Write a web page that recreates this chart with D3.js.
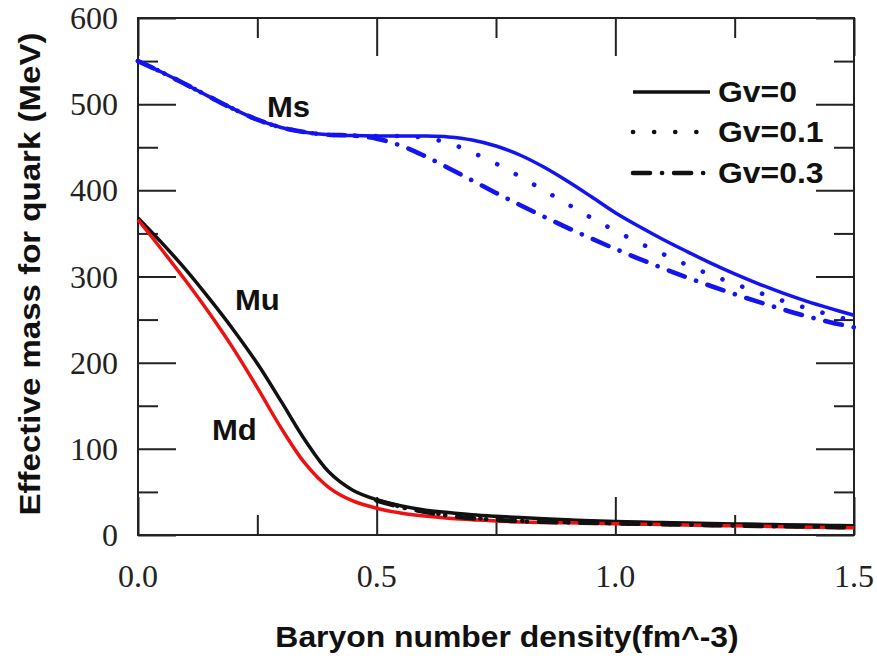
<!DOCTYPE html>
<html>
<head>
<meta charset="utf-8">
<script src="https://cdn.jsdelivr.net/npm/d3@7/dist/d3.min.js"></script>
<style>
  html, body { margin: 0; padding: 0; background: #fff; }
  svg { display: block; }
</style>
</head>
<body>
<svg id="chart" width="877" height="658"></svg>
<script>
// Baryon number density grid (fm^-3)
const rho = [0, 0.05, 0.1, 0.15, 0.2, 0.25, 0.3, 0.35, 0.4, 0.45, 0.5, 0.55, 0.6, 0.65, 0.7,
             0.75, 0.8, 0.85, 0.9, 0.95, 1.0, 1.05, 1.1, 1.15, 1.2, 1.25, 1.3, 1.35, 1.4, 1.45, 1.5];

// Strange quark effective mass (MeV) for each vector coupling
const msGv0  = [550, 537, 523, 508.5, 494.5, 482, 473, 467.5, 464.5, 463.5, 463, 463, 463, 462, 458.5,
                451.5, 441, 427, 410.5, 392.5, 374, 358, 343, 329, 315.5, 303, 291.5, 281, 271.5, 263, 255];
const msGv01 = [550, 537, 523, 508.5, 494.5, 482, 473, 467.5, 464.5, 463.5, 463, 463, 461, 455, 444,
                431, 416, 400, 384, 368, 353, 339, 326, 313.5, 302, 291.5, 281.5, 272, 263.5, 255.5, 248];
const msGv03 = [550, 537, 523, 508.5, 494.5, 482, 473, 467.5, 464.5, 463.5, 460, 452, 440, 426, 411.5,
                397, 383, 369.5, 356.5, 344, 332, 320.5, 309.5, 299, 289, 279.5, 270.5, 262, 254, 247, 241];

// Light quark effective masses (MeV), Gv = 0
const muGv0 = [368, 339, 308, 274, 238, 199, 155, 110, 73, 52, 41, 34, 29, 26, 23.5,
               21.7, 20.2, 18.8, 17.6, 16.5, 15.6, 15, 14.4, 13.9, 13.4, 12.9, 12.4, 11.9, 11.5, 11.1, 10.7];
const mdGv0 = [366, 331, 295, 257, 216, 171, 124, 83, 55, 39.5, 31, 25.5, 22, 19.5, 17.8,
               16.2, 15.2, 14.6, 14.1, 13.6, 13.1, 12.6, 12.1, 11.6, 11.1, 10.6, 10.1, 9.6, 9.1, 8.7, 8.3];

// Light quark mass with finite Gv (high-density branch)
const rhoTail = [0.5, 0.55, 0.6, 0.65, 0.7, 0.75, 0.8, 0.9, 1.0, 1.1, 1.2, 1.3, 1.4, 1.5];
const muGv01  = [40.5, 33, 27.5, 23, 20, 18, 16.5, 15, 13.8, 12.8, 11.8, 10.9, 10, 9.2];
const muGv03  = [40, 32.5, 27, 22.5, 19.5, 17.5, 16, 14.6, 13.5, 12.5, 11.5, 10.6, 9.8, 9];

// Axis ticks and labels
const xMajor = [0, 0.5, 1.0, 1.5];
const xMinor = [0.25, 0.75, 1.25];
const xTickLabels = ["0.0", "0.5", "1.0", "1.5"];
const yMajor = [0, 100, 200, 300, 400, 500, 600];
const yMinor = [50, 150, 250, 350, 450, 550];

const legendItems = ["Gv=0", "Gv=0.1", "Gv=0.3"];

const svg = d3.select("#chart");
const plot = { left: 138, right: 854, top: 18, bottom: 535 };

const x = d3.scaleLinear().domain([0, 1.5]).range([plot.left, plot.right]);
const y = d3.scaleLinear().domain([0, 600]).range([plot.bottom, plot.top]);

const axisColor = "#222";
const majorLen = 38, minorLen = 20;

// Frame ticks via d3 axes on all four sides, pointing inward
function drawAxis(axisFn, transform, values, len) {
  const g = svg.append("g")
    .attr("transform", transform)
    .call(axisFn.tickValues(values).tickSize(-len).tickFormat(""));
  g.select(".domain").remove();
  g.selectAll(".tick line").attr("stroke", axisColor).attr("stroke-width", 2);
  return g;
}
drawAxis(d3.axisBottom(x), `translate(0,${plot.bottom})`, xMajor, majorLen);
drawAxis(d3.axisBottom(x), `translate(0,${plot.bottom})`, xMinor, minorLen);
drawAxis(d3.axisTop(x), `translate(0,${plot.top})`, xMajor, majorLen);
drawAxis(d3.axisTop(x), `translate(0,${plot.top})`, xMinor, minorLen);
drawAxis(d3.axisLeft(y), `translate(${plot.left},0)`, yMajor, majorLen);
drawAxis(d3.axisLeft(y), `translate(${plot.left},0)`, yMinor, minorLen);
drawAxis(d3.axisRight(y), `translate(${plot.right},0)`, yMajor, majorLen);
drawAxis(d3.axisRight(y), `translate(${plot.right},0)`, yMinor, minorLen);

svg.append("rect")
  .attr("x", plot.left).attr("y", plot.top)
  .attr("width", plot.right - plot.left).attr("height", plot.bottom - plot.top)
  .attr("fill", "none").attr("stroke", axisColor).attr("stroke-width", 2);

// Tick labels (serif)
const serif = "'Liberation Serif', 'Times New Roman', serif";
svg.append("g").selectAll("text").data(yMajor).join("text")
  .attr("x", plot.left - 20).attr("y", d => y(d) + 11)
  .attr("text-anchor", "end")
  .attr("font-family", serif).attr("font-size", 32).attr("fill", "#222")
  .text(d => d);
svg.append("g").selectAll("text").data(xMajor).join("text")
  .attr("x", d => x(d)).attr("y", 587)
  .attr("text-anchor", "middle")
  .attr("font-family", serif).attr("font-size", 32).attr("fill", "#222")
  .text((d, i) => xTickLabels[i]);

// Bold sans text, slightly widened
const sans = "'Liberation Sans', Arial, Helvetica, sans-serif";
function boldText(px, py, str, opts = {}) {
  const sx = opts.sx || 1.1;
  const rot = opts.rotate || 0;
  const g = svg.append("g")
    .attr("transform", `translate(${px},${py}) rotate(${rot}) scale(${sx},1)`);
  g.append("text")
    .attr("text-anchor", opts.anchor || "start")
    .attr("font-family", sans).attr("font-weight", "bold")
    .attr("font-size", opts.size || 29).attr("fill", "#111")
    .text(str);
  return g;
}

boldText(507, 647, "Baryon number density(fm^-3)", { anchor: "middle", sx: 1.1 });
boldText(40, 274, "Effective mass for quark (MeV)", { anchor: "middle", sx: 1.14, rotate: -90 });

// Curves
const blue = "#1414f0", red = "#ee1111", black = "#111";
const dotDash = "0.1 21";
const dashDot = "17 12 0.1 12";

function curve(xs, ys, color, dash) {
  const line = d3.line()
    .x((d, i) => x(xs[i]))
    .y(d => y(d))
    .curve(d3.curveCatmullRom.alpha(0.5));
  const p = svg.append("path")
    .datum(ys)
    .attr("d", line)
    .attr("fill", "none")
    .attr("stroke", color)
    .attr("stroke-width", 3.5)
    .attr("stroke-linejoin", "round");
  if (dash) p.attr("stroke-dasharray", dash).attr("stroke-linecap", "round").attr("stroke-width", 4.6);
  return p;
}

curve(rho, msGv03, blue, dashDot);
curve(rho, msGv01, blue, dotDash);
curve(rho, msGv0, blue);

curve(rho, muGv0, black);
curve(rho, mdGv0, red);
curve(rhoTail, muGv01, black, dotDash);
curve(rhoTail, muGv03, black, dashDot);

// Curve labels
boldText(267, 117, "Ms", { sx: 1.07 });
boldText(235, 310, "Mu", { sx: 1.07 });
boldText(212, 440, "Md", { sx: 1.07 });

// Legend
const legendY = [92, 132, 173];
const legendDash = [null, dotDash, dashDot];
legendItems.forEach((label, i) => {
  const seg = svg.append("line")
    .attr("x1", 633).attr("x2", 710)
    .attr("y1", legendY[i]).attr("y2", legendY[i])
    .attr("stroke", black).attr("stroke-width", 3.5);
  if (legendDash[i]) seg.attr("stroke-dasharray", legendDash[i]).attr("stroke-linecap", "round").attr("stroke-width", 4.6);
  boldText(718, legendY[i] + 10, label, { sx: 1.1 });
});
</script>
</body>
</html>
